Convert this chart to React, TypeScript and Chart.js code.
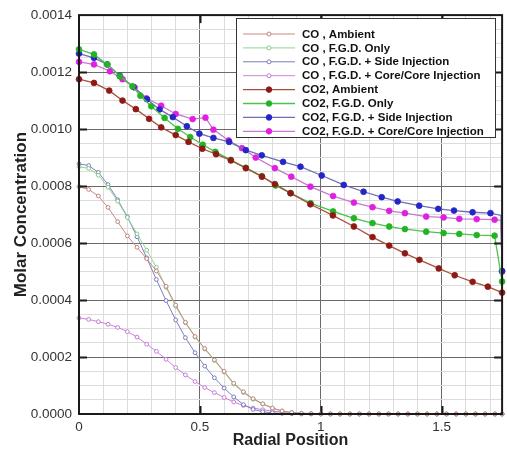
import React, { useEffect, useRef } from 'react';
import { Chart, registerables } from 'chart.js';
Chart.register(...registerables);

// ---- CO series (shared radial positions) ----
const coX = [0, 0.04, 0.08, 0.12, 0.16, 0.2, 0.24, 0.28, 0.32, 0.36, 0.4, 0.44, 0.48, 0.52, 0.56, 0.6, 0.64, 0.68, 0.72, 0.76, 0.8, 0.84, 0.88, 0.92, 0.96, 1, 1.04, 1.08, 1.12, 1.16, 1.2, 1.24, 1.28, 1.32, 1.36, 1.4, 1.44, 1.48, 1.52, 1.56, 1.6, 1.64, 1.68, 1.72, 1.75];
const coAmbient = [0.000798, 0.000788, 0.000765, 0.000725, 0.000675, 0.000625, 0.000585, 0.000545, 0.000502, 0.000448, 0.000382, 0.000322, 0.000272, 0.00023, 0.00019, 0.00015, 0.000108, 0.000078, 0.000054, 0.000036, 0.000021, 0.000011, 0.000005, 0.000002, 0.000001, 0, 0, 0, 0, 0, 0, 0, 0, 0, 0, 0, 0, 0, 0, 0, 0, 0, 0, 0, 0];
const coFgd = [0.000868, 0.000862, 0.000838, 0.000796, 0.000747, 0.00069, 0.000632, 0.000575, 0.000515, 0.000445, 0.000378, 0.00032, 0.00027, 0.000228, 0.000188, 0.000147, 0.000105, 0.000075, 0.000052, 0.000035, 0.00002, 0.00001, 0.000004, 0.000002, 0.000001, 0, 0, 0, 0, 0, 0, 0, 0, 0, 0, 0, 0, 0, 0, 0, 0, 0, 0, 0, 0];
const coSide = [0.000878, 0.000872, 0.000848, 0.000805, 0.000752, 0.000692, 0.000622, 0.000548, 0.000472, 0.000398, 0.00033, 0.000268, 0.000215, 0.000168, 0.000127, 0.000091, 0.00006, 0.000033, 0.000016, 0.000008, 0.000004, 0.000002, 0.000001, 0, 0, 0, 0, 0, 0, 0, 0, 0, 0, 0, 0, 0, 0, 0, 0, 0, 0, 0, 0, 0, 0];
const coCore = [0.000337, 0.000332, 0.000324, 0.000315, 0.000304, 0.000289, 0.00027, 0.000245, 0.00022, 0.000192, 0.000163, 0.000137, 0.000114, 0.000093, 0.000075, 0.000058, 0.000042, 0.00003, 0.000021, 0.000015, 0.00001, 0.000007, 0.000005, 0.000003, 0.000002, 0.000001, 0, 0, 0, 0, 0, 0, 0, 0, 0, 0, 0, 0, 0, 0, 0, 0, 0, 0, 0];

// ---- CO2 series ----
const co2AmbX = [0, 0.062, 0.125, 0.18, 0.235, 0.29, 0.34, 0.4, 0.453, 0.51, 0.567, 0.628, 0.69, 0.757, 0.81, 0.875, 0.957, 1.05, 1.137, 1.214, 1.283, 1.348, 1.408, 1.488, 1.554, 1.628, 1.691, 1.75];
const co2AmbY = [0.001175, 0.001162, 0.001135, 0.0011, 0.00107, 0.001036, 0.001006, 0.000979, 0.000955, 0.000931, 0.000912, 0.00089, 0.000863, 0.000833, 0.000807, 0.000775, 0.000736, 0.000697, 0.000658, 0.000621, 0.000591, 0.000564, 0.000541, 0.000511, 0.000487, 0.000464, 0.000447, 0.000426];

const co2FgdX = [0, 0.062, 0.117, 0.169, 0.221, 0.254, 0.299, 0.354, 0.409, 0.46, 0.512, 0.564, 0.628, 0.69, 0.756, 0.813, 0.875, 0.958, 1.051, 1.137, 1.214, 1.283, 1.348, 1.436, 1.508, 1.573, 1.645, 1.719, 1.75];
const co2FgdY = [0.00128, 0.001262, 0.001227, 0.001185, 0.00115, 0.001117, 0.00108, 0.001039, 0.001001, 0.000972, 0.000945, 0.00092, 0.000892, 0.000864, 0.000835, 0.000802, 0.000775, 0.00074, 0.000711, 0.000687, 0.00067, 0.000658, 0.000649, 0.00064, 0.000635, 0.000632, 0.000628, 0.000626, 0.000465];

const co2SideX = [0, 0.062, 0.117, 0.169, 0.225, 0.281, 0.333, 0.388, 0.446, 0.498, 0.556, 0.621, 0.69, 0.756, 0.844, 0.916, 1.004, 1.095, 1.177, 1.252, 1.318, 1.407, 1.486, 1.551, 1.628, 1.702, 1.745, 1.75];
const co2SideY = [0.001265, 0.00125, 0.001227, 0.001187, 0.001148, 0.001105, 0.001069, 0.001042, 0.00101, 0.000984, 0.000969, 0.000955, 0.000926, 0.000908, 0.000885, 0.000868, 0.000837, 0.000804, 0.00078, 0.000761, 0.000746, 0.000731, 0.00072, 0.000714, 0.000708, 0.000705, 0.000697, 0.000502];

const co2CoreX = [0, 0.062, 0.128, 0.18, 0.23, 0.279, 0.34, 0.4, 0.47, 0.523, 0.556, 0.619, 0.674, 0.731, 0.81, 0.878, 0.957, 1.051, 1.137, 1.214, 1.283, 1.348, 1.436, 1.508, 1.573, 1.645, 1.719, 1.745, 1.75];
const co2CoreY = [0.001236, 0.001227, 0.001203, 0.001175, 0.001146, 0.001108, 0.001082, 0.001053, 0.001035, 0.00104, 0.000998, 0.00096, 0.000933, 0.0009, 0.000863, 0.000833, 0.000798, 0.000765, 0.000742, 0.000726, 0.000713, 0.000705, 0.000693, 0.00069, 0.000685, 0.000684, 0.000682, 0.00068, 0.0005];

const seriesLabels = [
  'CO , Ambient',
  'CO , F.G.D. Only',
  'CO , F.G.D. + Side Injection',
  'CO , F.G.D. + Core/Core Injection',
  'CO2, Ambient',
  'CO2, F.G.D. Only',
  'CO2, F.G.D. + Side Injection',
  'CO2, F.G.D. + Core/Core Injection',
];

const xTitle = 'Radial Position';
const yTitle = 'Molar Concentration';
const X_MIN = 0, X_MAX = 1.75, X_STEP = 0.1, X_MAJOR = 0.5;
const Y_MIN = 0, Y_MAX = 0.0014, Y_STEP = 0.00005, Y_MAJOR = 0.0002;

const FONT = "'Liberation Sans', Arial, sans-serif";

export default function App() {
  const ref = useRef<HTMLCanvasElement>(null);

  useEffect(() => {
    const canvas = ref.current;
    if (!canvas) return;
    const isMajor = (v: number, m: number) => Math.abs(v / m - Math.round(v / m)) < 1e-6;

    const mk = (label: string, xs: number[], ys: number[], line: string, point: string, filled: boolean, hideIdx: number = -1) => ({
      label,
      data: xs.map((x, i) => ({ x, y: ys[i] })),
      showLine: true,
      borderColor: line,
      backgroundColor: filled ? point : '#ffffff',
      borderWidth: filled ? 1.3 : 1,
      pointRadius: (c: any) => (c.dataIndex === hideIdx ? 0 : filled ? 2.9 : 1.9),
      pointBackgroundColor: filled ? point : '#ffffff',
      pointBorderColor: point,
      pointBorderWidth: filled ? 0.8 : 0.9,
      tension: 0,
      clip: false,
      _filled: filled,
      _line: line,
      _point: point,
    });

    const datasets: any[] = [
      mk(seriesLabels[0], coX, coAmbient, '#c98a80', '#b87a72', false),
      mk(seriesLabels[1], coX, coFgd, '#8fd48f', '#7cc47c', false),
      mk(seriesLabels[2], coX, coSide, '#7d7dc0', '#6f6fb5', false),
      mk(seriesLabels[3], coX, coCore, '#cf80dc', '#c070d0', false),
      mk(seriesLabels[4], co2AmbX, co2AmbY, '#a8503f', '#8e1a16', true),
      mk(seriesLabels[5], co2FgdX, co2FgdY, '#4cc44c', '#22b422', true),
      mk(seriesLabels[6], co2SideX, co2SideY, '#6e6eb4', '#2626c8', true, co2SideX.length - 2),
      mk(seriesLabels[7], co2CoreX, co2CoreY, '#c47ad0', '#e020e0', true, co2CoreX.length - 2),
    ];

    const framePlugin = {
      id: 'frame',
      afterDatasetsDraw(chart: any) {
        const { ctx, chartArea: a, scales } = chart;
        ctx.save();
        ctx.strokeStyle = '#1a1a1a';
        ctx.lineWidth = 2;
        for (let v = Y_MIN + Y_MAJOR; v < Y_MAX - 1e-9; v += Y_MAJOR) {
          const y = Math.round(scales.y.getPixelForValue(v)) + 0.5;
          ctx.beginPath(); ctx.moveTo(a.left, y); ctx.lineTo(a.left + 8, y); ctx.stroke();
          ctx.beginPath(); ctx.moveTo(a.right, y); ctx.lineTo(a.right - 8, y); ctx.stroke();
        }
        for (let v = X_MIN + X_MAJOR; v < X_MAX - 1e-9; v += X_MAJOR) {
          const x = Math.round(scales.x.getPixelForValue(v)) + 0.5;
          ctx.beginPath(); ctx.moveTo(x, a.bottom); ctx.lineTo(x, a.bottom - 8); ctx.stroke();
          ctx.beginPath(); ctx.moveTo(x, a.top); ctx.lineTo(x, a.top + 8); ctx.stroke();
        }
        ctx.lineWidth = 2;
        ctx.strokeRect(a.left, a.top, a.right - a.left, a.bottom - a.top);
        ctx.restore();
      },
      afterDraw(chart: any) {
        const { ctx } = chart;
        const bx = 236, by = 18, bw = 259, bh = 119;
        ctx.save();
        ctx.fillStyle = '#ffffff';
        ctx.fillRect(bx, by, bw, bh);
        ctx.strokeStyle = '#333333';
        ctx.lineWidth = 1;
        ctx.strokeRect(bx + 0.5, by + 0.5, bw, bh);
        ctx.font = `bold 11.5px ${FONT}`;
        ctx.textBaseline = 'middle';
        chart.data.datasets.forEach((ds: any, i: number) => {
          const y = by + 16 + i * 13.9;
          ctx.strokeStyle = ds._line;
          ctx.lineWidth = ds._filled ? 1.3 : 1;
          ctx.beginPath(); ctx.moveTo(243, y); ctx.lineTo(295, y); ctx.stroke();
          ctx.beginPath();
          ctx.arc(269, y, ds._filled ? 2.8 : 2, 0, Math.PI * 2);
          ctx.fillStyle = ds._filled ? ds._point : '#ffffff';
          ctx.fill();
          ctx.strokeStyle = ds._point;
          ctx.lineWidth = 0.9;
          ctx.stroke();
          ctx.fillStyle = '#111111';
          ctx.fillText(ds.label, 302, y + 0.5);
        });
        ctx.restore();
      },
    };

    const chart = new Chart(canvas, {
      type: 'scatter',
      data: { datasets },
      options: {
        animation: false,
        responsive: false,
        layout: { padding: { left: 0, right: 3, top: 12, bottom: 0 } },
        plugins: { legend: { display: false }, tooltip: { enabled: false } },
        scales: {
          x: {
            type: 'linear',
            min: X_MIN,
            max: X_MAX,
            afterFit: (s: any) => { s.height = 36; },
            border: { display: false },
            grid: {
              drawTicks: false,
              color: (c: any) => (c.tick && isMajor(c.tick.value, X_MAJOR) ? '#6a6a6a' : '#dcdcdc'),
              lineWidth: 1,
            },
            ticks: {
              stepSize: X_STEP,
              autoSkip: false,
              includeBounds: false,
              maxRotation: 0,
              padding: 5,
              color: '#333333',
              font: { family: FONT, size: 13.5 },
              callback: (v: any) => (isMajor(Number(v), X_MAJOR) ? String(Math.round(Number(v) * 10) / 10) : ''),
            },
            title: {
              display: true,
              text: xTitle,
              color: '#222222',
              font: { family: FONT, size: 16, weight: 'bold' },
              padding: { top: 0, bottom: 0 },
            },
          },
          y: {
            type: 'linear',
            min: Y_MIN,
            max: Y_MAX,
            afterFit: (s: any) => { s.width = 79; },
            border: { display: false },
            grid: {
              drawTicks: false,
              color: (c: any) => (c.tick && isMajor(c.tick.value, Y_MAJOR) ? '#6a6a6a' : '#dcdcdc'),
              lineWidth: 1,
            },
            ticks: {
              stepSize: Y_STEP,
              autoSkip: false,
              includeBounds: false,
              padding: 7,
              color: '#333333',
              font: { family: FONT, size: 13.5 },
              callback: (v: any) => (isMajor(Number(v), Y_MAJOR) ? Number(v).toFixed(4) : ''),
            },
            title: {
              display: true,
              text: yTitle,
              color: '#222222',
              font: { family: FONT, size: 17, weight: 'bold' },
              padding: { top: 11, bottom: 0 },
            },
          },
        },
      },
      plugins: [framePlugin],
    } as any);

    return () => chart.destroy();
  }, []);

  return (
    <div style={{ position: 'absolute', left: 0, top: 0, width: 507, height: 450, background: '#ffffff' }}>
      <canvas ref={ref} width={507} height={450} style={{ width: 507, height: 450, display: 'block' }} />
    </div>
  );
}
